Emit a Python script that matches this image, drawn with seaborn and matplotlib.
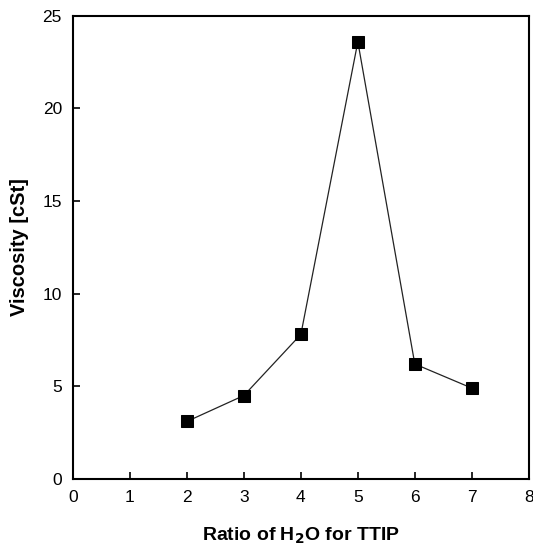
import matplotlib
matplotlib.use("Agg")
import matplotlib.pyplot as plt
import seaborn as sns
import pandas as pd

# data
ratio = [2, 3, 4, 5, 6, 7]
viscosity = [3.1, 4.5, 7.8, 23.6, 6.2, 4.9]

sns.set_style("ticks")
plt.rcParams['font.family'] = ['Liberation Sans', 'DejaVu Sans']

df = pd.DataFrame({"ratio": ratio, "viscosity": viscosity})

fig = plt.figure(figsize=(5.33, 5.46), dpi=100)
ax = fig.add_axes([0.137, 0.123, 0.855, 0.848])
sns.lineplot(data=df, x="ratio", y="viscosity", ax=ax, color="#222222",
             linewidth=0.9, marker="s", markersize=8.5, markerfacecolor="black",
             markeredgecolor="black")

ax.set_xlim(0, 8)
ax.set_ylim(0, 25)
ax.set_xticks(range(0, 9))
ax.set_yticks(range(0, 26, 5))
ax.tick_params(direction="in", length=5, width=1.2, labelsize=12.5, pad=8, colors="black")
for s in ax.spines.values():
    s.set_linewidth(1.5)
    s.set_color("black")
ax.set_xlabel("Ratio of H$_\\mathbf{2}$O for TTIP", fontsize=14, fontweight="bold",
              labelpad=15, color="black")
ax.set_ylabel("Viscosity [cSt]", fontsize=14.5, fontweight="bold", labelpad=10, color="black")

fig.savefig("out.png", dpi=100)
